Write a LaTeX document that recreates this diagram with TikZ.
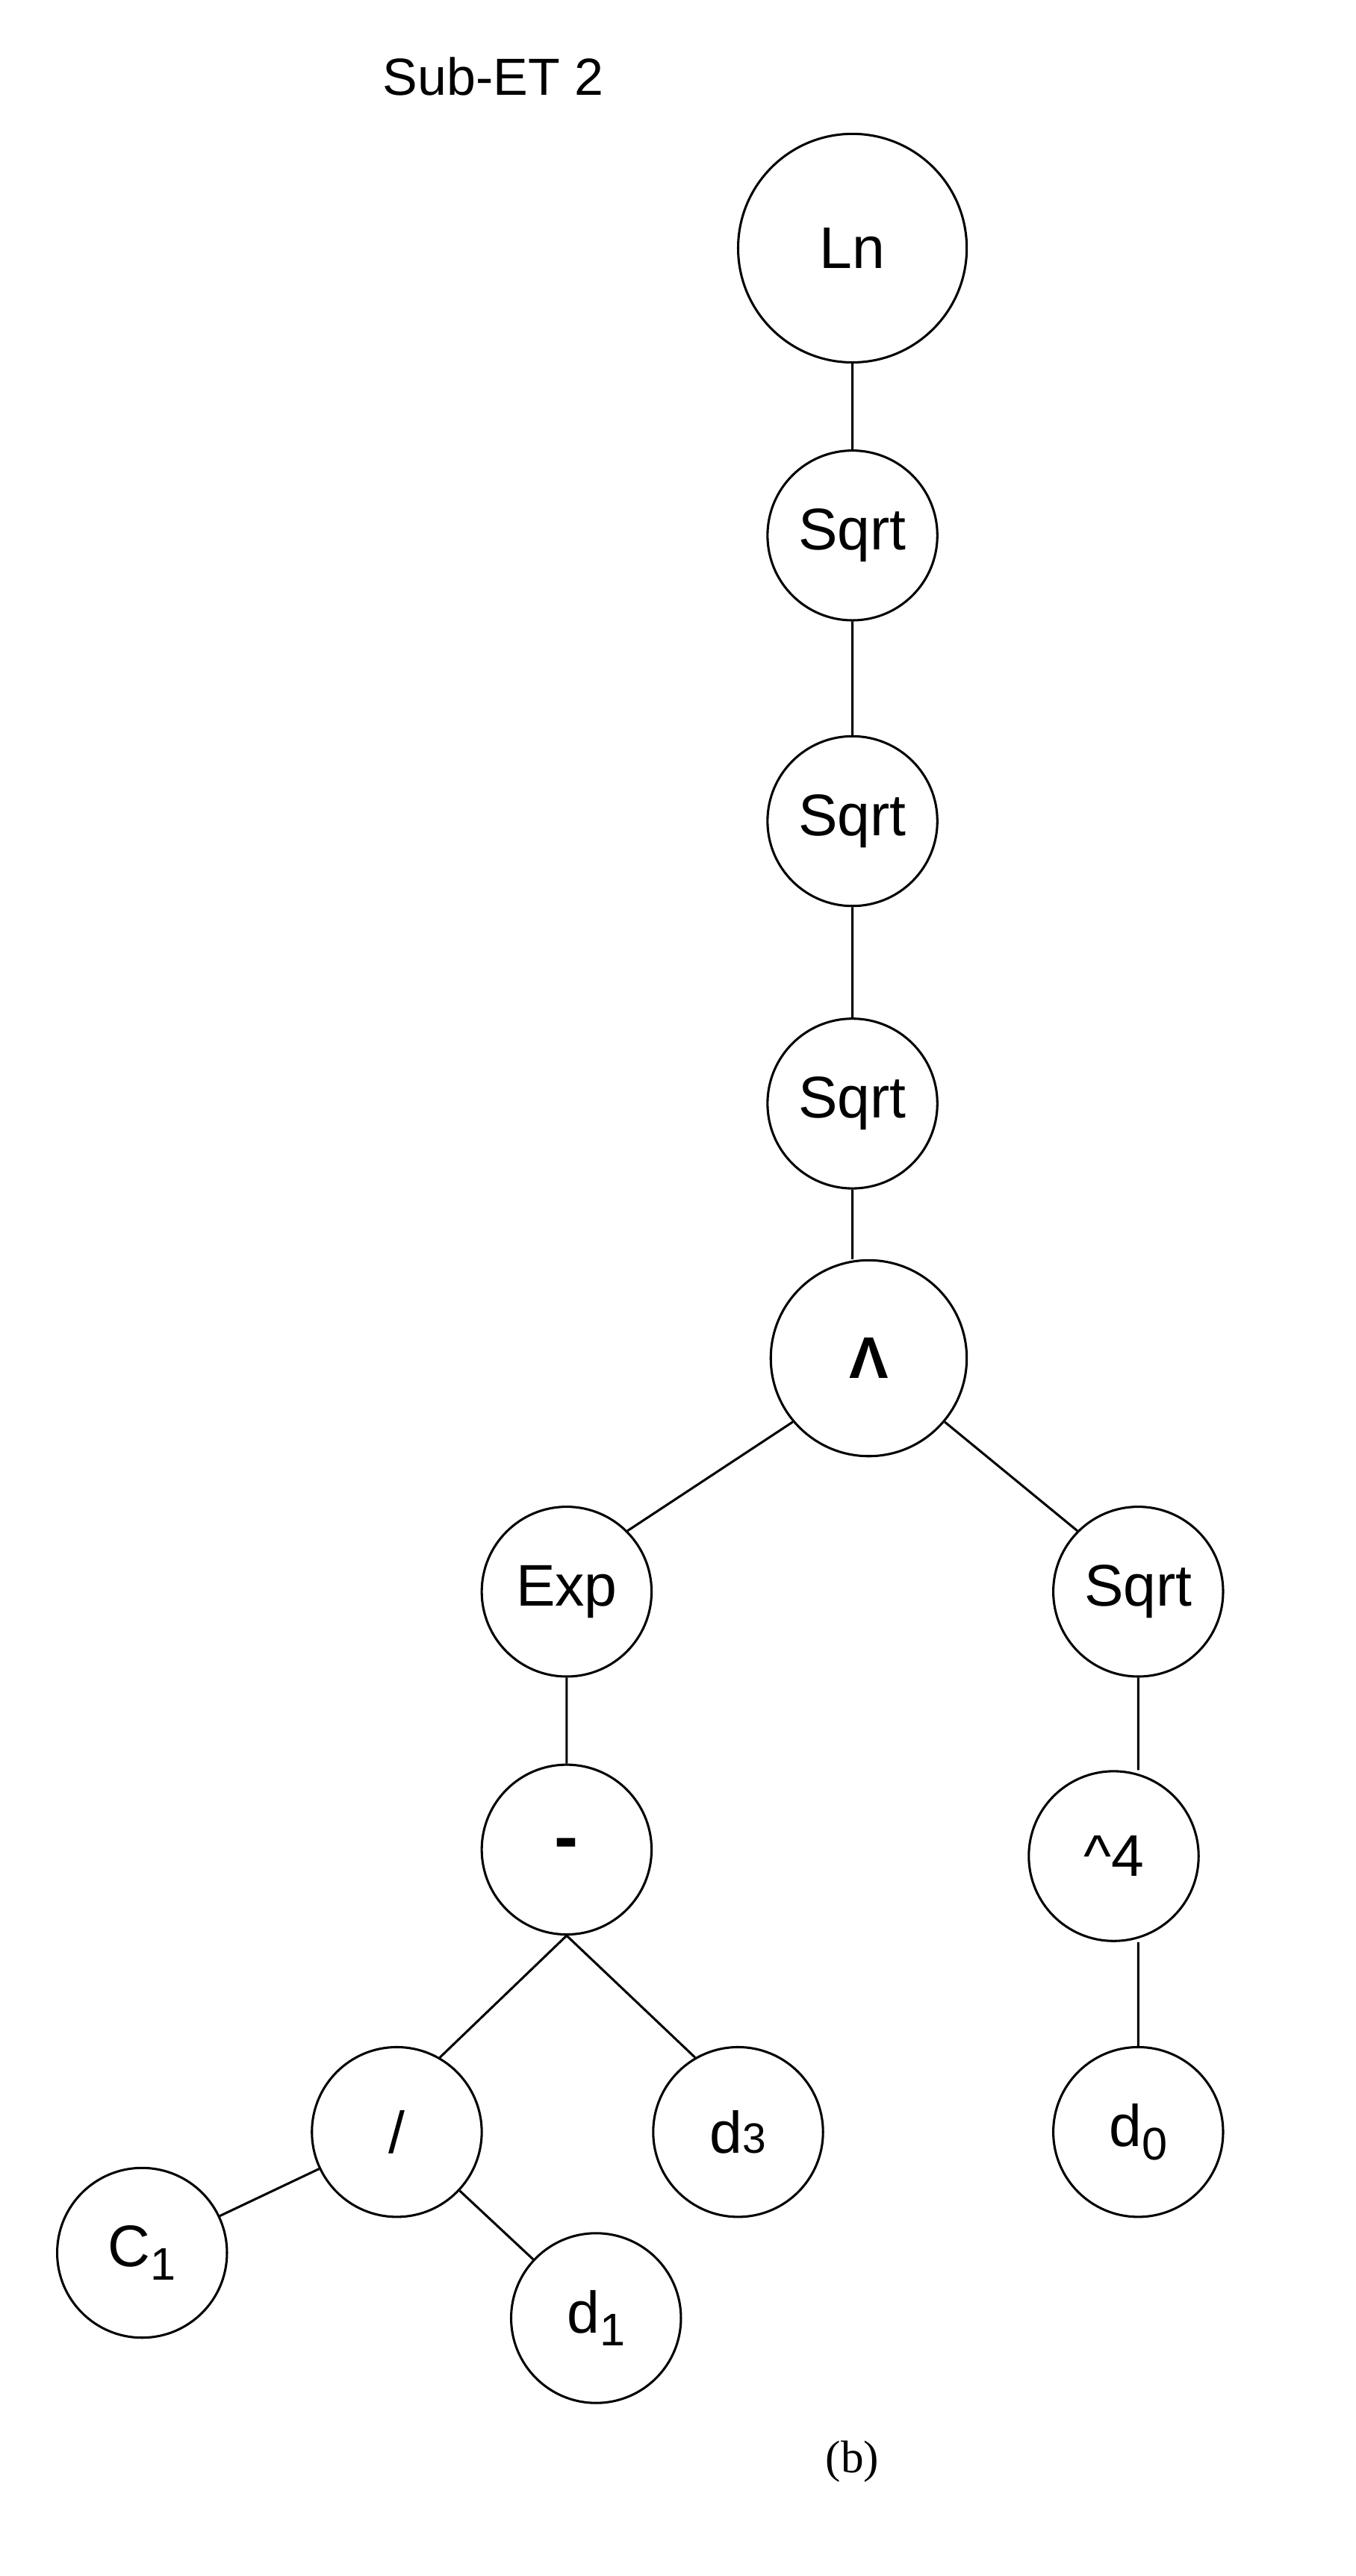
\documentclass[tikz,border=0pt]{standalone}
\usepackage{fontspec}
\setmainfont{Liberation Sans}
\newfontfamily\serifb{Liberation Serif}
\begin{document}
\begin{tikzpicture}[x=1pt,y=-1pt,
  nd/.style={draw,circle,line width=1.4pt,minimum size=104pt,inner sep=0pt,font=\fontsize{36}{40}\selectfont},
  ed/.style={line width=1.4pt}]
\useasboundingbox (0,0) rectangle (830,1578);
\node[nd,minimum size=140pt] (ln) at (522,152) {Ln};
\node[nd] (s1) at (522,328) {Sqrt};
\node[nd] (s2) at (522,503) {Sqrt};
\node[nd] (s3) at (522,676) {Sqrt};
\node[nd,minimum size=120pt] (pw) at (532,832) {\textbf{Λ}};
\node[nd] (ex) at (347,975) {Exp};
\node[nd] (sr) at (697,975) {Sqrt};
\node[nd] (mi) at (347,1133) {\textbf{\fontsize{44}{44}\selectfont -}};
\node[nd] (p4) at (682,1137) {\^{}4};
\node[nd] (dv) at (243,1306) {/};
\node[nd] (d3) at (452,1306) {d{\fontsize{26}{26}\selectfont 3}};
\node[nd] (d0) at (697,1306) {d\raisebox{-8pt}{\fontsize{28}{28}\selectfont 0}};
\node[nd] (c1) at (87,1380) {C\raisebox{-8pt}{\fontsize{28}{28}\selectfont 1}};
\node[nd] (d1) at (365,1420) {d\raisebox{-8pt}{\fontsize{28}{28}\selectfont 1}};
\node[font=\fontsize{32}{36}\selectfont] (t) at (302,47) {Sub-ET 2};
\node[font=\serifb\fontsize{28}{32}\selectfont] (b) at (522,1508) {(b)};
\draw[ed] (ln)--(s1) (s1)--(s2) (s2)--(s3)
 (s3.south) -- (s3.south |- pw.north)
 (pw.220)--(ex.45) (pw.-40)--(sr.135)
 (ex)--(mi) (sr.south) -- (sr.south |- p4.north) (p4.south -| d0.north) -- (d0.north)
 (mi.south)--(dv.60) (mi.south)--(d3.120) (dv)--(c1) (dv)--(d1);
\end{tikzpicture}
\end{document}
